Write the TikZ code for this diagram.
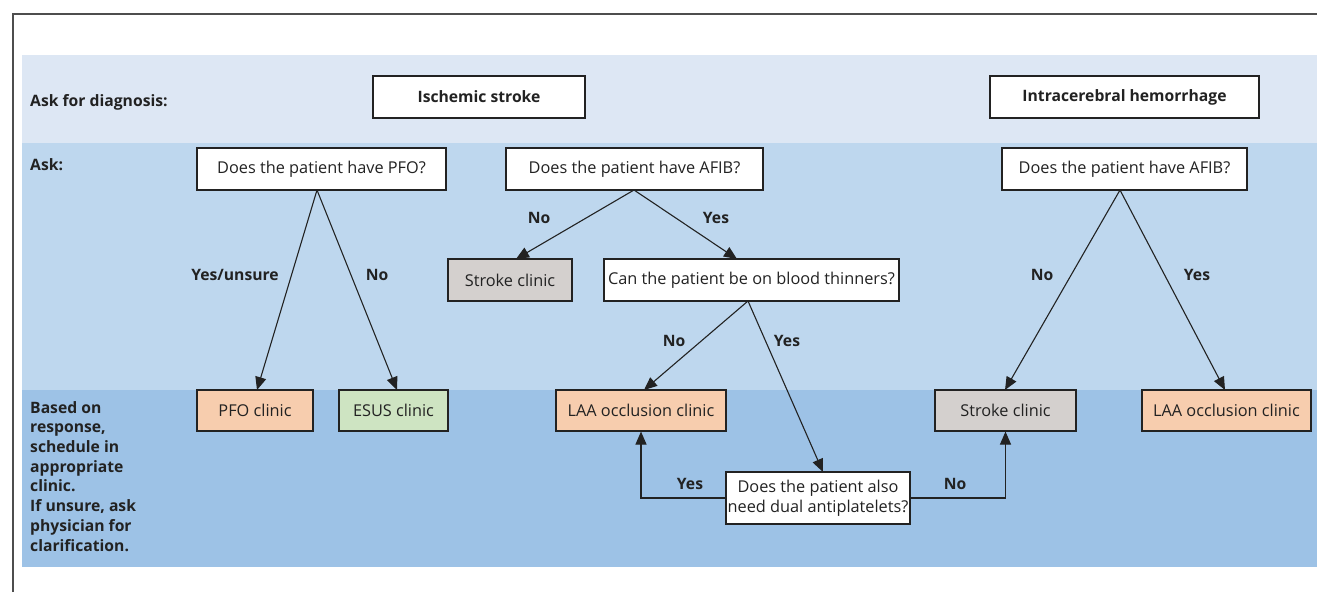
\documentclass[tikz,border=0pt]{standalone}
\usepackage{fontspec}
\setmainfont{Open Sans}
\usetikzlibrary{arrows.meta}
\definecolor{bandA}{RGB}{221,231,244}
\definecolor{bandB}{RGB}{190,215,238}
\definecolor{bandC}{RGB}{157,194,230}
\definecolor{peach}{RGB}{247,205,174}
\definecolor{sage}{RGB}{206,228,194}
\definecolor{greyc}{RGB}{212,208,206}
\definecolor{ink}{RGB}{34,34,34}
\tikzset{
  box/.style={draw=ink, line width=1.1pt, inner sep=0pt, text=ink, font=\fontsize{16.3}{19}\selectfont},
  lbl/.style={text=ink, font=\fontsize{15.7}{18}\selectfont\bfseries, inner sep=0pt},
  arr/.style={draw=ink, line width=1.1pt, -{Triangle[length=13pt,width=11pt]}}
}
\begin{document}
\begin{tikzpicture}[x=1pt,y=-1pt]
\useasboundingbox (0,0) rectangle (1317,592);
% bands
\fill[bandA] (22,55) rectangle (1317,143);
\fill[bandB] (22,143) rectangle (1317,390);
\fill[bandC] (22,390) rectangle (1317,567);
% frame
\draw[ink!80, line width=1.3pt] (13,592) -- (13,14) -- (1317,14);
% row labels
\node[lbl, anchor=west] (l1) at (30,102) {Ask for diagnosis:};
\node[lbl, anchor=west] (l2) at (30,165) {Ask:};
\node[lbl, anchor=north west, align=left, font=\fontsize{15.7}{19.7}\selectfont\bfseries] (l3) at (30,401)
 {Based on\\response,\\schedule in\\appropriate\\clinic.\\If unsure, ask\\physician for\\clarification.};
% top boxes
\node[box, fill=white, minimum width=212pt, minimum height=42pt, font=\fontsize{15.7}{18}\selectfont\bfseries] (isch) at (479,97) {Ischemic stroke};
\node[box, fill=white, minimum width=269pt, minimum height=42pt, font=\fontsize{15.7}{18}\selectfont\bfseries] (ich) at (1124.5,97) {Intracerebral hemorrhage};
% questions
\node[box, fill=white, minimum width=249pt, minimum height=42pt] (pfo) at (321.5,169) {Does the patient have PFO?};
\node[box, fill=white, minimum width=257pt, minimum height=42pt] (afib) at (634.5,169) {Does the patient have AFIB?};
\node[box, fill=white, minimum width=245pt, minimum height=42pt] (afibr) at (1124.5,169) {Does the patient have AFIB?};
\node[box, fill=greyc, minimum width=124pt, minimum height=42pt] (sc1) at (510,280) {Stroke clinic};
\node[box, fill=white, minimum width=295pt, minimum height=42pt] (bt) at (751.5,280) {Can the patient be on blood thinners?};
% clinics
\node[box, fill=peach, minimum width=116pt, minimum height=41pt] (pfoc) at (255,410.5) {PFO clinic};
\node[box, fill=sage, minimum width=109pt, minimum height=41pt] (esus) at (393.5,410.5) {ESUS clinic};
\node[box, fill=peach, minimum width=170pt, minimum height=41pt] (laa1) at (641,410.5) {LAA occlusion clinic};
\node[box, fill=greyc, minimum width=141pt, minimum height=41pt] (sc2) at (1005.5,410.5) {Stroke clinic};
\node[box, fill=peach, minimum width=169pt, minimum height=41pt] (laa2) at (1226.5,410.5) {LAA occlusion clinic};
\node[box, fill=white, minimum width=184pt, minimum height=52pt, align=center, font=\fontsize{16.3}{20}\selectfont] (dual) at (818,498) {Does the patient also\\need dual antiplatelets?};
% coordinates
\coordinate (pfoS) at (317,190);
\coordinate (afibS) at (634,190);
\coordinate (afibrS) at (1120,190);
\coordinate (btS) at (748,301);
\coordinate (dualL) at (726,498);
\coordinate (dualR) at (910,498);
% arrows
\draw[arr] (pfoS) -- (257,390);
\draw[arr] (pfoS) -- (397,390);
\draw[arr] (afibS) -- (516,259);
\draw[arr] (afibS) -- (737,259);
\draw[arr] (btS) -- (644,390);
\draw[arr] (btS) -- (823,472);
\draw[arr] (dualL) -| (laa1.south);
\draw[arr] (dualR) -| (sc2.south);
\draw[arr] (afibrS) -- (1005,390);
\draw[arr] (afibrS) -- (1225,390);
% edge labels
\node[lbl] (t1) at (235,275) {Yes/unsure};
\node[lbl] (t2) at (377,275) {No};
\node[lbl] (t3) at (539,218) {No};
\node[lbl] (t4) at (716,218) {Yes};
\node[lbl] (t5) at (674,341) {No};
\node[lbl] (t6) at (787,341) {Yes};
\node[lbl] (t7) at (690,484) {Yes};
\node[lbl] (t8) at (955,484) {No};
\node[lbl] (t9) at (1042,275) {No};
\node[lbl] (t10) at (1197,275) {Yes};
\end{tikzpicture}
\end{document}
